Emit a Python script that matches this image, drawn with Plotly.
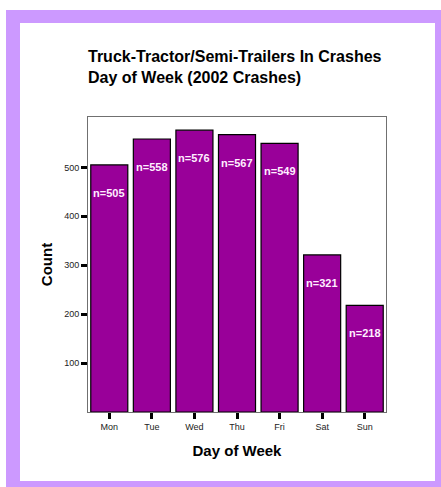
import plotly.graph_objects as go

days = ["Mon", "Tue", "Wed", "Thu", "Fri", "Sat", "Sun"]
counts = [505, 558, 576, 567, 549, 321, 218]
ytick_vals = [100, 200, 300, 400, 500]
title_text = "Truck-Tractor/Semi-Trailers In Crashes<br>Day of Week (2002 Crashes)"

W, H = 441, 487
L, R, T, B = 88, 386, 117, 412
FONT = "Liberation Sans, Arial, sans-serif"

def px_x(p):
    return (p - L) / (R - L)

def px_y(p):
    return (B - p) / (B - T)

fig = go.Figure()
fig.add_trace(go.Bar(
    x=days, y=counts, width=0.87,
    marker=dict(color="#990099", line=dict(color="#000000", width=1.2)),
    hoverinfo="x+y",
))

for d, c in zip(days, counts):
    fig.add_annotation(x=d, y=c, text=f"<b>n={c}</b>", showarrow=False,
                       yanchor="middle", yshift=-28,
                       font=dict(family=FONT, size=11, color="#FFEEFF"))

shapes = [
    dict(type="rect", xref="paper", yref="paper", layer="below",
         x0=px_x(6), x1=px_x(448), y0=px_y(10), y1=px_y(495),
         fillcolor="#CC99FF", line=dict(width=0)),
    dict(type="rect", xref="paper", yref="paper", layer="below",
         x0=px_x(20), x1=px_x(435), y0=px_y(23), y1=px_y(481),
         fillcolor="#FFFFFF", line=dict(width=0)),
]

fig.update_layout(
    width=W, height=H,
    margin=dict(l=L, r=W - R, t=T, b=H - B),
    paper_bgcolor="#FFFFFF", plot_bgcolor="#FFFFFF",
    shapes=shapes,
    showlegend=False,
    title=dict(text=f"<b>{title_text}</b>", xref="paper", x=0, xanchor="left",
               yref="container", y=1 - 62 / H, yanchor="middle",
               font=dict(family=FONT, size=16, color="#000000")),
    xaxis=dict(
        showline=True, linecolor="#707070", linewidth=1, mirror=True,
        ticks="outside", ticklen=6, tickwidth=3, tickcolor="#000000",
        tickfont=dict(family=FONT, size=9, color="#222222"),
        showgrid=False, zeroline=False,
        title=dict(text="<b>Day of Week</b>", standoff=14,
                   font=dict(family=FONT, size=15, color="#000000")),
    ),
    yaxis=dict(
        range=[0, 603],
        showline=True, linecolor="#707070", linewidth=1, mirror=True,
        ticks="outside", ticklen=6, tickwidth=3, tickcolor="#000000",
        tickvals=ytick_vals,
        tickfont=dict(family=FONT, size=9, color="#222222"),
        showgrid=False, zeroline=False,
        title=dict(text="<b>Count</b>", standoff=7,
                   font=dict(family=FONT, size=15, color="#000000")),
    ),
)

fig.write_html("out.html", config={"displayModeBar": False},
               post_script="document.body.style.margin='0px';document.body.style.overflow='hidden';")
